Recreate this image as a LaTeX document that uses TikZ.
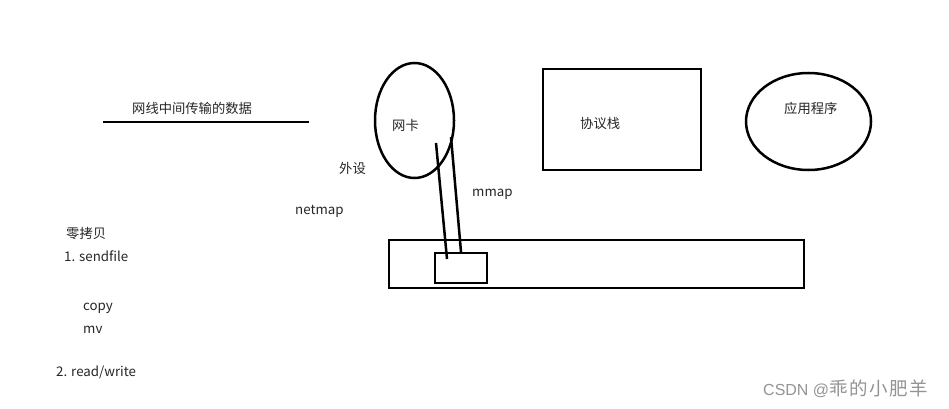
\documentclass[tikz,border=0pt]{standalone}
\usepackage{fontspec}
\setmainfont{Noto Sans CJK SC}
\newfontfamily\wmlatin{Liberation Sans}
\newfontfamily\wmcjk{Noto Sans CJK SC}[LetterSpace=8]
\usetikzlibrary{shapes.geometric}
\begin{document}
\begin{tikzpicture}[x=1pt,y=-1pt,
  shapeline/.style={draw=black,line width=2.5pt},
  lbl/.style={anchor=west,inner sep=0pt,font=\fontsize{13.3}{15}\selectfont,text=black!85},
  wm/.style={anchor=west,inner sep=0pt,text=black!42}]
\useasboundingbox[fill=white] (0,0) rectangle (949,409);
% shapes
\node[shapeline,ellipse,minimum width=79pt,minimum height=115pt,inner sep=0pt] (nic) at (414.5,120.5) {};
\node[shapeline,rectangle,minimum width=158pt,minimum height=101pt,inner sep=0pt] (stack) at (622,119.5) {};
\node[shapeline,ellipse,minimum width=125pt,minimum height=97pt,inner sep=0pt] (app) at (808.5,121.5) {};
\node[shapeline,rectangle,minimum width=415pt,minimum height=48pt,inner sep=0pt] (mem) at (596.5,264) {};
\node[shapeline,rectangle,minimum width=52pt,minimum height=30pt,inner sep=0pt] (buf) at (461,268) {};
% wire line
\coordinate (wireL) at (103,122);
\coordinate (wireR) at (309,122);
\draw[line width=2.5pt] (wireL) -- (wireR);
% mmap lines
\coordinate (m1a) at (436,143);
\coordinate (m1b) at (447,259);
\coordinate (m2a) at (451,137);
\coordinate (m2b) at (461,252);
\draw[line width=2.5pt] (m1a) -- (m1b);
\draw[line width=2.5pt] (m2a) -- (m2b);
% labels
\node[lbl] (twire) at (132,108) {网线中间传输的数据};
\node[lbl] (tnic) at (392,125) {网卡};
\node[lbl] (tstack) at (580,123) {协议栈};
\node[lbl] (tapp) at (784,108) {应用程序};
\node[lbl] (tperi) at (339,168) {外设};
\node[lbl] (tnetmap) at (295,211) {netmap};
\node[lbl] (tmmap) at (472,194) {mmap};
\node[lbl] (tzero) at (66,233) {零拷贝};
\node[lbl] (tsend) at (64,256) {1. sendfile};
\node[lbl] (tcopy) at (83,308) {copy};
\node[lbl] (tmv) at (83,330) {mv};
\node[lbl] (trw) at (56,372) {2. read/write};
\node[wm] (twm) at (763,389) {{\wmlatin\fontsize{16}{18}\selectfont CSDN @}{\wmcjk\fontsize{18.5}{20}\selectfont 乖的小肥羊}};
\end{tikzpicture}
\end{document}
